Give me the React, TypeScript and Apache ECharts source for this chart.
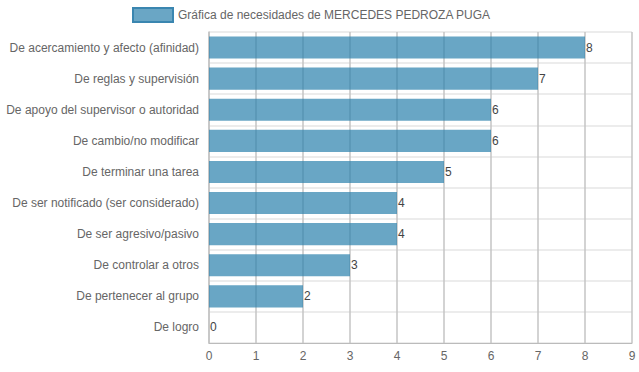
import React, { useEffect, useRef } from "react";
import * as echarts from "echarts";

const categories = [
  "De acercamiento y afecto (afinidad)",
  "De reglas y supervisión",
  "De apoyo del supervisor o autoridad",
  "De cambio/no modificar",
  "De terminar una tarea",
  "De ser notificado (ser considerado)",
  "De ser agresivo/pasivo",
  "De controlar a otros",
  "De pertenecer al grupo",
  "De logro",
];
const values = [8, 7, 6, 6, 5, 4, 4, 3, 2, 0];
const seriesName = "Gráfica de necesidades de MERCEDES PEDROZA PUGA";

export default function App() {
  const ref = useRef<HTMLDivElement>(null);
  useEffect(() => {
    if (!ref.current) return;
    const chart = echarts.init(ref.current, undefined, { renderer: "svg" });
    const font = "'Liberation Sans', Arial, Helvetica, sans-serif";
    chart.setOption({
      animation: false,
      textStyle: { fontFamily: font },
      legend: {
        show: true,
        left: 127,
        top: 2,
        itemWidth: 40,
        itemHeight: 14,
        itemGap: 5,
        icon: "rect",
        textStyle: { color: "#666", fontSize: 12, fontFamily: font },
        itemStyle: { color: "#6aa6c5", borderColor: "#3a86b0", borderWidth: 2 },
        data: [seriesName],
      },
      grid: { left: 209, right: 7, top: 32, bottom: 29, containLabel: false },
      xAxis: {
        type: "value",
        min: 0,
        max: 9,
        interval: 1,
        axisLine: { show: true, lineStyle: { color: "#bbb" } },
        axisTick: { show: false },
        axisLabel: { color: "#666", fontSize: 12, margin: 7, fontFamily: font },
        splitLine: { show: true, lineStyle: { color: "#c4c4c4", width: 1.5 } },
      },
      yAxis: {
        type: "category",
        inverse: true,
        data: categories,
        axisLine: { show: true, lineStyle: { color: "#c4c4c4", width: 1.5 } },
        axisTick: { show: false },
        axisLabel: { color: "#666", fontSize: 12, margin: 10, fontFamily: font },
        splitLine: { show: true, lineStyle: { color: "#ececec", width: 2 } },
      },
      series: [
        {
          name: seriesName,
          type: "bar",
          data: values,
          barCategoryGap: "29%",
          itemStyle: { color: "rgba(42,128,172,0.7)" },
          label: {
            show: true,
            position: "right",
            distance: 1,
            color: "#444",
            fontSize: 12,
            fontFamily: font,
          },
        },
      ],
    });
    return () => chart.dispose();
  }, []);
  return (
    <div
      ref={ref}
      style={{ position: "fixed", left: 0, top: 0, width: 639, height: 372, background: "#fff" }}
    />
  );
}
